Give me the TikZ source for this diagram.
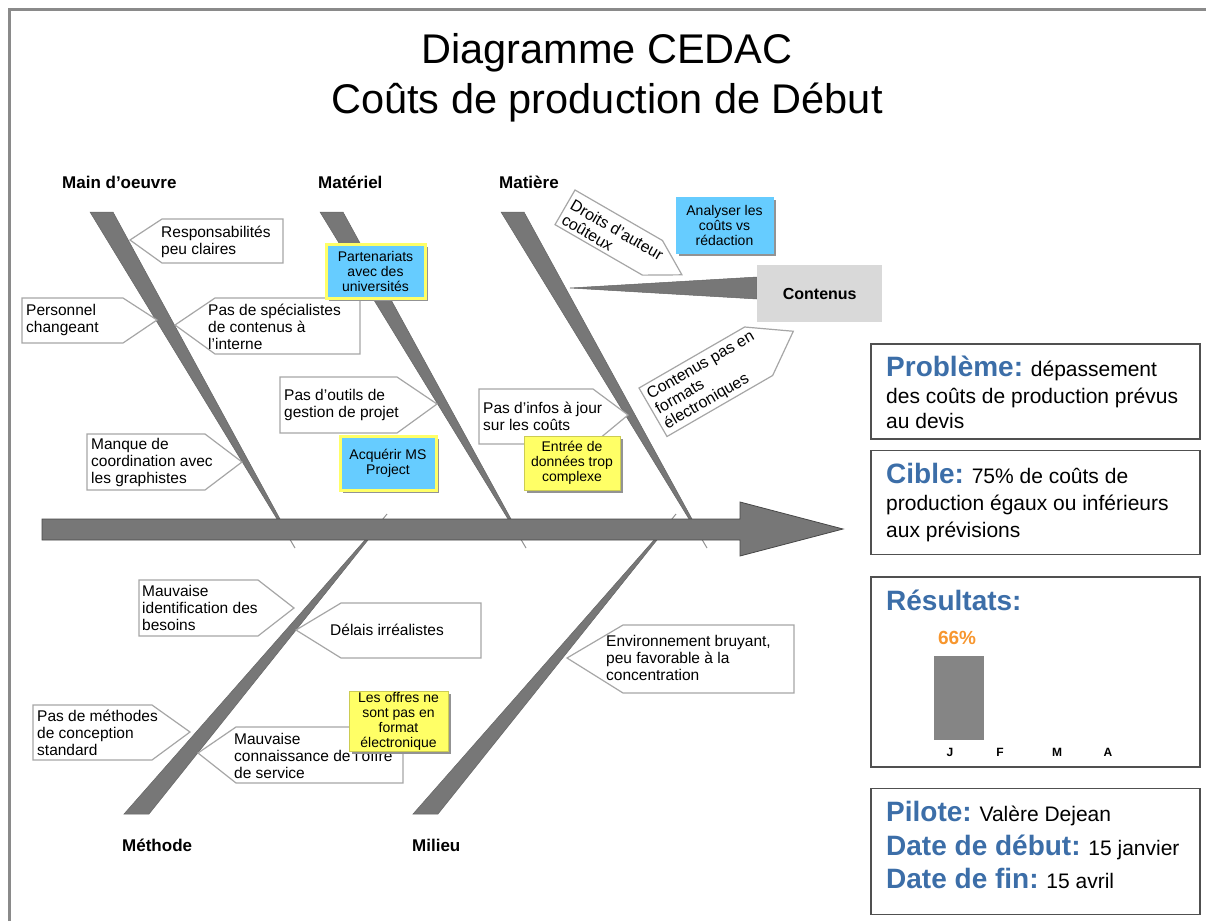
\documentclass[tikz,border=0pt]{standalone}
\usepackage{fontspec}
\setmainfont{Liberation Sans}
\usetikzlibrary{positioning}
\usetikzlibrary{shadows}

\definecolor{bonegray}{HTML}{777777}
\definecolor{edgegray}{HTML}{A6A6A6}
\definecolor{framegray}{HTML}{8A8A8A}
\definecolor{panelgray}{HTML}{505050}
\definecolor{noteblue}{HTML}{66CCFF}
\definecolor{noteyellow}{HTML}{FFFF66}
\definecolor{headblue}{HTML}{3C6EA8}
\definecolor{pctorange}{HTML}{F7962E}
\definecolor{boxgray}{HTML}{D9D9D9}

\newcommand{\fsz}[2]{\fontsize{#1}{#2}\selectfont}

\begin{document}
\begin{tikzpicture}[
  x=1pt, y=-1pt,
  bone/.style={fill=bonegray, draw=bonegray!85!black, line width=0.5},
  thinbone/.style={draw=bonegray!80, line width=1},
  callout/.style={draw=edgegray, fill=white, line width=1.2},
  calltxt/.style={font=\fsz{15.5}{17}, align=left, inner sep=0, anchor=west},
  catlabel/.style={font=\bfseries\fsz{17}{19}, inner sep=0, anchor=west},
  note/.style={font=\fsz{14}{15}, align=center, inner sep=0,
    drop shadow={shadow xshift=3pt, shadow yshift=-3pt, fill=gray!85, opacity=1}},
  bluenote/.style={note, fill=noteblue, draw=noteyellow, line width=3},
  yellownote/.style={note, fill=noteyellow, draw=noteyellow!80!black, line width=0.4},
  panel/.style={draw=panelgray, line width=1.5, minimum width=329, inner sep=0},
  head/.style={font=\bfseries\fsz{28}{30}, text=headblue},
  paneltxt/.style={font=\fsz{21}{24}, inner sep=0, anchor=base west},
  month/.style={font=\bfseries\fsz{12}{14}, inner sep=0}
]
\useasboundingbox (0,0) rectangle (1206,921);

% frame
\draw[framegray, line width=3] (9.5,921) -- (9.5,9.5) -- (1206,9.5);

% title
\node[font=\fsz{41.5}{45}, anchor=base] (title1) at (607,63) {Diagramme CEDAC};
\node[font=\fsz{41.5}{45}, anchor=base] (title2) at (607,113) {Coûts de production de Début};

% categories
\node[catlabel] (mainoe) at (62,182) {Main d’oeuvre};
\node[catlabel] (materiel) at (318,182) {Matériel};
\node[catlabel] (matiere) at (499,182) {Matière};
\node[catlabel] (methode) at (122,845) {Méthode};
\node[catlabel] (milieu) at (412,845) {Milieu};

% bones
\draw[thinbone] (278,519) -- (295,548);
\draw[thinbone] (509,519) -- (526,548);
\draw[thinbone] (690,519) -- (707,548);
\draw[thinbone] (366,540) -- (387,514);
\draw[thinbone] (655,540) -- (676,514);
\filldraw[bone] (90,212) -- (113,212) -- (280,519) -- (277,519) -- cycle;
\filldraw[bone] (320,212) -- (343,212) -- (511,519) -- (508,519) -- cycle;
\filldraw[bone] (501,212) -- (524,212) -- (692,519) -- (689,519) -- cycle;
\filldraw[bone] (124,814) -- (149,814) -- (368,540) -- (365,540) -- cycle;
\filldraw[bone] (413,814) -- (438,814) -- (657,540) -- (654,540) -- cycle;
\filldraw[bone] (570,288) -- (757,277) -- (757,299) -- cycle;

% spine
\filldraw[fill=bonegray, draw=bonegray!60!black, line width=0.8]
  (42,519) -- (740,519) -- (740,502) -- (843,529) -- (740,556) -- (740,540) -- (42,540) -- cycle;

\node[fill=boxgray, minimum width=125, minimum height=57, inner sep=0,
  font=\bfseries\fsz{16}{18}, anchor=north west] (contenus) at (757,265) {Contenus};

% main d'oeuvre
\draw[callout] (130,240) -- (162,219) -- (283,219) -- (283,263) -- (162,263) -- cycle;
\node[calltxt] (resp) at (161,242) {Responsabilités\\peu claires};
\draw[callout] (22,298) -- (123,298) -- (157,320) -- (123,343) -- (22,343) -- cycle;
\node[calltxt] (perso) at (26,320) {Personnel\\changeant};
\draw[callout] (175,325) -- (215,298) -- (360,298) -- (360,354) -- (215,354) -- cycle;
\node[calltxt] (specia) at (208,327) {Pas de spécialistes\\de contenus à\\l’interne};
\draw[callout] (87,434) -- (205,434) -- (242,462) -- (205,490) -- (87,490) -- cycle;
\node[calltxt] (coord) at (91,462) {Manque de\\coordination avec\\les graphistes};

% materiel
\draw[callout] (280,377) -- (397,377) -- (437,404) -- (397,433) -- (280,433) -- cycle;
\node[calltxt] (outils) at (284,405) {Pas d’outils de\\gestion de projet};
\node[bluenote, minimum width=99, minimum height=54] (parten) at (375.5,271) {Partenariats\\avec des\\universités};
\node[bluenote, minimum width=96, minimum height=54] (msproj) at (388,463) {Acquérir MS\\Project};

% matiere
\begin{scope}[shift={(575,190)}, rotate=-30]
  \draw[callout] (0,0) -- (101,0) -- (135,20) -- (101,40) -- (0,40) -- cycle;
  \node[calltxt, font=\fsz{16}{17}, transform shape] (droits) at (4,22) {Droits d’auteur\\coûteux};
\end{scope}
\begin{scope}[shift={(639,388)}, rotate=30]
  \draw[callout] (0,0) -- (122,0) -- (162,28) -- (122,56) -- (0,56) -- cycle;
  \node[calltxt, font=\fsz{16}{17}, transform shape] (formats) at (4,29) {Contenus pas en\\formats\\électroniques};
\end{scope}
\draw[callout] (479,389) -- (593,389) -- (628,415) -- (593,444) -- (479,444) -- cycle;
\node[calltxt] (infos) at (483,416) {Pas d’infos à jour\\sur les coûts};
\node[bluenote, draw=noteblue, line width=0.4, minimum width=97, minimum height=56] (analyse) at (724.5,225) {Analyser les\\coûts vs\\rédaction};
\node[yellownote, minimum width=96, minimum height=54] (saisie) at (572,463) {Entrée de\\données trop\\complexe};

% methode
\draw[callout] (139,580) -- (258,580) -- (294,608) -- (258,636) -- (139,636) -- cycle;
\node[calltxt] (besoins) at (142,608) {Mauvaise\\identification des\\besoins};
\draw[callout] (296,630) -- (341,603) -- (481,603) -- (481,658) -- (341,658) -- cycle;
\node[calltxt] (delais) at (330,630) {Délais irréalistes};
\draw[callout] (33,705) -- (152,705) -- (190,732) -- (152,760) -- (33,760) -- cycle;
\node[calltxt] (methstd) at (37,733) {Pas de méthodes\\de conception\\standard};
\draw[callout] (198,753) -- (236,727) -- (403,727) -- (403,783) -- (236,783) -- cycle;
\node[calltxt] (offre) at (234,756) {Mauvaise\\connaissance de l’offre\\de service};
\node[yellownote, minimum width=99, minimum height=60] (offres) at (398.5,721) {Les offres ne\\sont pas en\\format\\électronique};

% milieu
\draw[callout] (567,658) -- (623,625) -- (794,625) -- (794,693) -- (623,693) -- cycle;
\node[calltxt] (bruit) at (606,658) {Environnement bruyant,\\peu favorable à la\\concentration};

% panels
\node[panel, minimum height=95, anchor=north west] (prob) at (870,343) {};
\node[panel, minimum height=104, below=10pt of prob] (cible) {};
\node[panel, minimum height=190, below=21pt of cible] (res) {};
\node[panel, minimum height=126, below=20pt of res] (pil) {};

\node[paneltxt] (prob1) at ([shift={(16,33)}]prob.north west) {\textcolor{headblue}{\bfseries\fsz{28}{30}Problème:} dépassement};
\node[paneltxt] (prob2) at ([shift={(16,60)}]prob.north west) {des coûts de production prévus};
\node[paneltxt] (prob3) at ([shift={(16,85)}]prob.north west) {au devis};

\node[paneltxt] (cib1) at ([shift={(16,34)}]cible.north west) {\textcolor{headblue}{\bfseries\fsz{28}{30}Cible:} 75\% de coûts de};
\node[paneltxt] (cib2) at ([shift={(16,61)}]cible.north west) {production égaux ou inférieurs};
\node[paneltxt] (cib3) at ([shift={(16,88)}]cible.north west) {aux prévisions};

\node[paneltxt, head] (res1) at ([shift={(16,34)}]res.north west) {Résultats:};
\node[fill=bonegray!90, minimum width=50, minimum height=84, inner sep=0, anchor=north west] (barj) at (934,656) {};
\node[font=\bfseries\fsz{19}{21}, text=pctorange, inner sep=0] (pct) at (957,638) {66\%};
\node[month] (mj) at (950,752) {J};
\node[month] (mf) at (1000,752) {F};
\node[month] (mm) at (1057,752) {M};
\node[month] (ma) at (1108,752) {A};

\node[paneltxt] (pil1) at ([shift={(16,34)}]pil.north west) {\textcolor{headblue}{\bfseries\fsz{28}{30}Pilote:} Valère Dejean};
\node[paneltxt] (pil2) at ([shift={(16,68)}]pil.north west) {\textcolor{headblue}{\bfseries\fsz{28}{30}Date de début:} 15 janvier};
\node[paneltxt] (pil3) at ([shift={(16,101)}]pil.north west) {\textcolor{headblue}{\bfseries\fsz{28}{30}Date de fin:} 15 avril};
\end{tikzpicture}
\end{document}
